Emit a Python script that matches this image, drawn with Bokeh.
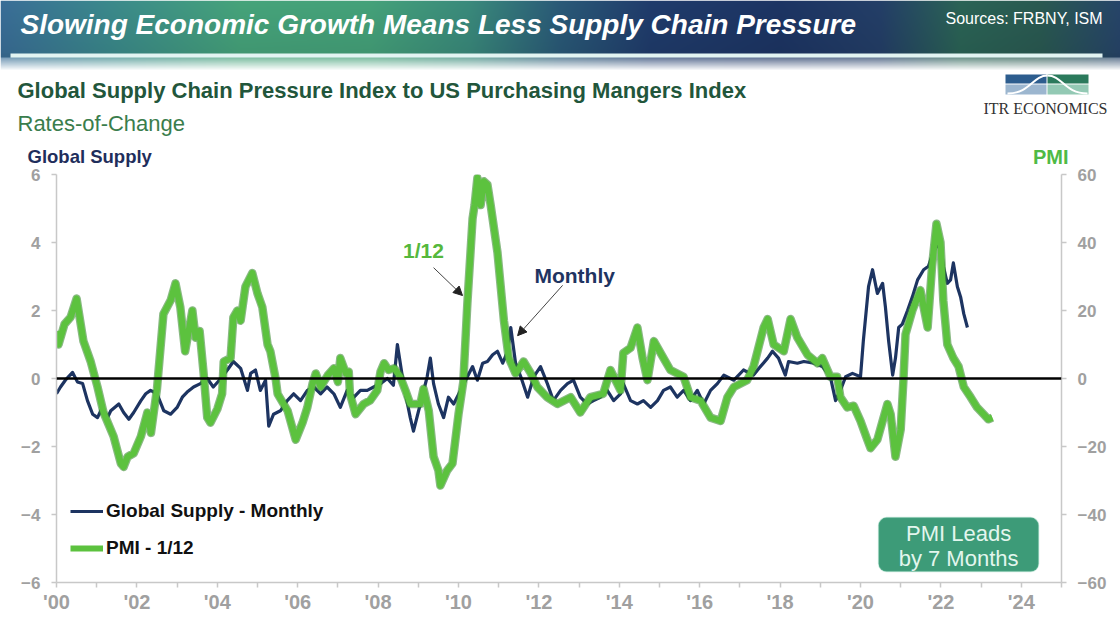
import numpy as np
from bokeh.plotting import figure
from bokeh.models import (Range1d, LinearAxis, FixedTicker, Span, Label, Arrow,
                          NormalHead, BoxAnnotation, Legend, LegendItem)
from bokeh.layouts import column
from bokeh.embed import file_html
from bokeh.resources import INLINE

# ---------------- data ----------------
gs_t = [2000.00, 2000.10, 2000.22, 2000.40, 2000.52, 2000.65, 2000.77, 2000.90, 2001.02, 2001.14,
        2001.27, 2001.35, 2001.55, 2001.67, 2001.80, 2001.92, 2002.10, 2002.22, 2002.34, 2002.50,
        2002.67, 2002.84, 2003.00, 2003.13, 2003.25, 2003.41, 2003.58, 2003.75, 2003.90, 2004.05,
        2004.25, 2004.40, 2004.58, 2004.75, 2004.83, 2004.95, 2005.07, 2005.20, 2005.28, 2005.40,
        2005.57, 2005.74, 2005.90, 2006.07, 2006.24, 2006.40, 2006.57, 2006.73, 2006.90, 2007.06,
        2007.23, 2007.40, 2007.56, 2007.73, 2007.89, 2008.06, 2008.23, 2008.38, 2008.48, 2008.63,
        2008.80, 2008.88, 2009.05, 2009.22, 2009.30, 2009.38, 2009.50, 2009.63, 2009.75, 2009.88,
        2010.05, 2010.22, 2010.35, 2010.47, 2010.60, 2010.72, 2010.85, 2010.97, 2011.10, 2011.22,
        2011.30, 2011.42, 2011.55, 2011.72, 2011.87, 2012.04, 2012.21, 2012.36, 2012.54, 2012.71,
        2012.86, 2013.03, 2013.20, 2013.36, 2013.53, 2013.70, 2013.86, 2014.03, 2014.10, 2014.28,
        2014.45, 2014.60, 2014.78, 2014.95, 2015.10, 2015.27, 2015.44, 2015.60, 2015.77, 2015.94,
        2016.10, 2016.27, 2016.44, 2016.60, 2016.85, 2017.09, 2017.34, 2017.51, 2017.69, 2017.81,
        2017.96, 2018.13, 2018.21, 2018.43, 2018.59, 2018.84, 2019.05, 2019.25, 2019.38, 2019.50,
        2019.63, 2019.80, 2020.00, 2020.07, 2020.20, 2020.30, 2020.42, 2020.55, 2020.62, 2020.70,
        2020.80, 2020.87, 2020.95, 2021.04, 2021.17, 2021.29, 2021.42, 2021.57, 2021.69, 2021.82,
        2021.99, 2022.06, 2022.16, 2022.24, 2022.31, 2022.41, 2022.49, 2022.57, 2022.66]
gs_v = [-0.45, -0.25, -0.05, 0.18, -0.10, -0.15, -0.65, -1.05, -1.15, -0.85,
        -1.15, -0.95, -0.75, -1.00, -1.20, -1.00, -0.65, -0.45, -0.35, -0.45,
        -0.95, -1.05, -0.85, -0.55, -0.40, -0.25, -0.15, 0.00, -0.25, -0.05,
        0.25, 0.50, 0.30, -0.35, 0.15, 0.25, -0.35, -0.05, -1.40, -1.05,
        -0.95, -0.65, -0.45, -0.65, -0.35, -0.25, -0.45, -0.25, -0.45, -0.85,
        -0.35, -0.55, -0.35, -0.35, -0.25, -0.15, 0.00, -0.20, 1.00, -0.15,
        -1.15, -1.55, -0.75, 0.05, 0.60, -0.15, -0.75, -1.15, -0.55, -0.75,
        -0.35, 0.05, 0.35, -0.05, 0.45, 0.50, 0.70, 0.80, 0.45, 0.80,
        1.50, 0.45, 0.05, -0.55, 0.05, 0.35, -0.15, -0.65, -0.35, -0.15,
        -0.05, -0.55, -0.75, -0.65, -0.55, -0.35, -0.65, -0.45, -0.15, -0.65,
        -0.75, -0.65, -0.85, -0.65, -0.35, -0.25, -0.55, -0.35, -0.65, -0.35,
        -0.75, -0.35, -0.15, 0.10, -0.05, 0.25, 0.10, 0.35, 0.60, 0.80,
        0.60, 0.10, 0.50, 0.45, 0.50, 0.45, 0.35, 0.05, -0.65, -0.35,
        0.05, 0.15, 0.05, 1.10, 2.70, 3.20, 2.50, 2.80, 2.10, 1.10,
        0.10, 0.60, 1.50, 1.60, 2.00, 2.40, 2.90, 3.20, 3.30, 3.75,
        4.05, 3.30, 2.80, 2.90, 3.40, 2.70, 2.40, 1.90, 1.50]

pmi_t = [2000.00, 2000.05, 2000.20, 2000.35, 2000.50, 2000.67, 2000.85, 2001.02, 2001.17, 2001.42,
         2001.60, 2001.67, 2001.77, 2001.92, 2002.10, 2002.26, 2002.35, 2002.50, 2002.66, 2002.84,
         2002.96, 2003.08, 2003.20, 2003.38, 2003.46, 2003.56, 2003.66, 2003.75, 2003.83, 2004.00,
         2004.12, 2004.16, 2004.33, 2004.40, 2004.50, 2004.58, 2004.70, 2004.87, 2005.00, 2005.12,
         2005.25, 2005.32, 2005.45, 2005.50, 2005.75, 2005.95, 2006.12, 2006.24, 2006.37, 2006.45,
         2006.57, 2006.75, 2006.90, 2007.00, 2007.06, 2007.20, 2007.27, 2007.30, 2007.44, 2007.64,
         2007.80, 2007.98, 2008.06, 2008.15, 2008.26, 2008.40, 2008.55, 2008.68, 2008.80, 2009.05,
         2009.13, 2009.26, 2009.38, 2009.50, 2009.55, 2009.72, 2009.85, 2010.00, 2010.12, 2010.22,
         2010.35, 2010.40, 2010.47, 2010.55, 2010.63, 2010.72, 2010.80, 2010.97, 2011.13, 2011.25,
         2011.42, 2011.62, 2011.80, 2011.96, 2012.20, 2012.46, 2012.79, 2013.03, 2013.28, 2013.60,
         2013.78, 2014.03, 2014.10, 2014.28, 2014.45, 2014.58, 2014.70, 2014.86, 2015.10, 2015.27,
         2015.60, 2015.77, 2016.02, 2016.27, 2016.52, 2016.69, 2016.85, 2017.18, 2017.34, 2017.59,
         2017.69, 2017.84, 2018.09, 2018.18, 2018.26, 2018.43, 2018.68, 2018.93, 2019.05, 2019.25,
         2019.42, 2019.50, 2019.67, 2019.83, 2020.00, 2020.17, 2020.25, 2020.42, 2020.55, 2020.67,
         2020.75, 2020.87, 2021.00, 2021.07, 2021.12, 2021.29, 2021.49, 2021.57, 2021.67, 2021.78,
         2021.89, 2021.99, 2022.06, 2022.16, 2022.31, 2022.44, 2022.57, 2022.74, 2022.90, 2023.06,
         2023.18, 2023.28]
pmi_v = [14.0, 10.0, 16.0, 18.0, 23.5, 11.0, 5.0, -2.5, -10.0, -17.0,
         -25.0, -26.0, -23.0, -22.0, -17.0, -10.0, -16.0, -3.0, 19.0, 23.0,
         28.0, 21.0, 8.0, 20.0, 12.0, 14.0, 1.5, -11.5, -13.0, -9.0,
         -4.5, 5.0, 6.0, 18.0, 20.0, 17.0, 27.0, 31.0, 25.0, 21.0,
         10.0, 8.0, 0.0, -4.5, -9.5, -18.0, -13.0, -8.5, -1.5, 1.5,
         -2.5, 1.0, 3.0, -1.0, 6.0, 1.5, 2.0, -4.5, -10.5, -7.5,
         -6.5, -3.5, 2.0, 4.5, 2.5, 3.0, 0.5, -3.5, -7.5, -7.5,
         -3.0, -9.5, -23.0, -27.0, -31.5, -27.0, -25.0, -10.5, -1.0, 22.0,
         47.0, 51.0, 59.0, 51.0, 58.0, 57.0, 51.0, 37.0, 17.0, 6.0,
         1.5, 5.0, 1.5, -2.5, -5.5, -7.5, -5.5, -10.0, -5.5, -4.5,
         2.5, -3.5, 7.5, 9.0, 15.0, 6.0, -0.5, 11.0, 6.0, 2.5,
         0.5, -5.5, -6.5, -11.5, -12.5, -5.5, -2.5, -0.5, 3.5, 15.0,
         17.5, 10.0, 8.0, 13.0, 17.5, 12.0, 7.0, 4.5, 6.0, 0.5,
         0.5, -5.5, -8.5, -8.0, -12.5, -18.0, -20.5, -18.0, -12.5, -7.5,
         -10.5, -23.0, -15.0, 0.0, 13.0, 20.0, 26.0, 21.0, 15.0, 33.0,
         45.5, 40.0, 23.0, 10.0, 6.0, 3.5, -2.5, -5.5, -8.5, -10.5,
         -12.0, -11.5]

x_ticks = [2000, 2002, 2004, 2006, 2008, 2010, 2012, 2014, 2016, 2018, 2020, 2022, 2024]
x_tick_labels = ["'00", "'02", "'04", "'06", "'08", "'10", "'12", "'14", "'16", "'18", "'20", "'22", "'24"]
x_minor = [2001, 2003, 2005, 2007, 2009, 2011, 2013, 2015, 2017, 2019, 2021, 2023, 2025]
left_ticks = [-6, -4, -2, 0, 2, 4, 6]
right_ticks = [-60, -40, -20, 0, 20, 40, 60]

FONT = "Liberation Sans"
NAVY = "#1d3461"
GREEN = "#5cc23e"
W = 1120


def no_align(fig):
    try:
        fig.frame_align = False
    except Exception:
        pass


# ---------------- header banner ----------------
HH = 70
hdr = figure(width=W, height=HH, x_range=Range1d(0, W), y_range=Range1d(0, HH),
             output_backend="svg", toolbar_location=None, min_border=0,
             x_axis_location=None, y_axis_location=None)
hdr.grid.visible = False
hdr.outline_line_color = None
no_align(hdr)

stops_x = [0, 110, 240, 370, 470, 560, 650, 780, 880, 960, 1040, 1120]
stops_c = ["#3a6e98", "#3b8a8c", "#46a47b", "#45a27a", "#3a8a7c", "#2a5a78",
           "#203c6c", "#1d3564", "#243f68", "#2b6456", "#2a5a52", "#27456a"]
rgb = np.array([[int(c[i:i + 2], 16) for i in (1, 3, 5)] for c in stops_c], dtype=float)
xs = np.arange(0, W) + 0.5
cols = np.stack([np.interp(xs, stops_x, rgb[:, k]) for k in range(3)], axis=1)
img = np.zeros((HH, W, 4), dtype=np.uint8)
line_mask = (xs > 10) & (xs < 1102)
for r in range(HH):
    sy = HH - r - 0.5
    if sy < 53:
        shade = 1.0 - 0.08 * sy / 53
        img[r, :, :3] = np.clip(cols * shade, 0, 255)
        img[r, :, 3] = 255
    elif sy < 57:
        img[r, :, :3] = np.clip(cols * 0.9, 0, 255)
        img[r, line_mask, :3] = [226, 244, 242]
        img[r, :, 3] = 255
    else:
        img[r, :, :3] = cols
        img[r, :, 3] = int(255 * 0.7 * max(0.0, 1 - (sy - 57) / 13))
hdr.image_rgba(image=[img.view(np.uint32).reshape(HH, W)], x=0, y=0, dw=W, dh=HH)

hdr.add_layout(Label(x=20, y=HH - 24, text="Slowing Economic Growth Means Less Supply Chain Pressure",
                     text_font=FONT, text_font_style="bold italic", text_font_size="28px",
                     text_color="white", text_baseline="middle"))
hdr.add_layout(Label(x=945, y=HH - 18, text="Sources: FRBNY, ISM", text_font=FONT,
                     text_font_size="16px", text_color="white", text_baseline="middle"))

# ---------------- titles / logo ----------------
T0, T1 = 70, 167
ttl = figure(width=W, height=T1 - T0, x_range=Range1d(0, W), y_range=Range1d(0, T1 - T0),
             output_backend="svg", toolbar_location=None, min_border=0,
             x_axis_location=None, y_axis_location=None)
ttl.grid.visible = False
ttl.outline_line_color = None
no_align(ttl)
ttl.add_layout(Label(x=17, y=T1 - 90, text="Global Supply Chain Pressure Index to US Purchasing Mangers Index",
                     text_font=FONT, text_font_style="bold", text_font_size="22px",
                     text_color="#22563b", text_baseline="middle"))
ttl.add_layout(Label(x=17, y=T1 - 123, text="Rates-of-Change", text_font=FONT,
                     text_font_size="22px", text_color="#3a7d4c", text_baseline="middle"))
ttl.add_layout(Label(x=27, y=T1 - 156, text="Global Supply", text_font=FONT, text_font_style="bold",
                     text_font_size="18.5px", text_color="#1f2e5c", text_baseline="middle"))
ttl.add_layout(Label(x=1068, y=T1 - 156, text="PMI", text_font=FONT, text_font_style="bold",
                     text_font_size="20px", text_color="#4fba45", text_baseline="middle",
                     text_align="right"))
# logo
ttl.quad(left=[1005, 1047, 1005, 1047], right=[1046, 1088, 1046, 1088],
         top=[T1 - 74, T1 - 74, T1 - 84, T1 - 84], bottom=[T1 - 83, T1 - 83, T1 - 94, T1 - 94],
         fill_color=["#2d5d8e", "#2b7a5c", "#9cb6cf", "#93c9b4"], line_color=None)
ttl.bezier(x0=[1007, 1047], y0=[T1 - 93, T1 - 75], x1=[1047, 1087], y1=[T1 - 75, T1 - 93],
           cx0=[1030, 1062], cy0=[T1 - 93, T1 - 75], cx1=[1032, 1064], cy1=[T1 - 75, T1 - 93],
           line_color="white", line_width=2)
ttl.add_layout(Label(x=1045, y=T1 - 108, text="ITR ECONOMICS", text_font="Liberation Serif",
                     text_font_size="16px", text_color="#333333", text_baseline="middle",
                     text_align="center"))

# ---------------- chart ----------------
p = figure(width=W, height=450, x_range=Range1d(2000, 2025), y_range=Range1d(-6, 6),
           output_backend="svg", toolbar_location=None,
           min_border_left=56, min_border_right=59, min_border_top=7, min_border_bottom=35)
p.extra_y_ranges = {"pmi": Range1d(-60, 60)}
p.grid.visible = False
p.outline_line_color = None
no_align(p)

p.add_layout(Span(location=0, dimension="width", line_color="black", line_width=2.5))

blue = p.line(gs_t, gs_v, line_color=NAVY, line_width=3.2, line_join="round")
p.line(pmi_t, pmi_v, y_range_name="pmi", line_color="#3a8a30", line_width=8.5,
       line_alpha=0.6, line_join="round")
green = p.line(pmi_t, pmi_v, y_range_name="pmi", line_color=GREEN, line_width=6.2,
               line_join="round")

raxis = LinearAxis(y_range_name="pmi", ticker=FixedTicker(ticks=right_ticks))
p.add_layout(raxis, "right")
p.yaxis[0].ticker = FixedTicker(ticks=left_ticks)
p.xaxis.ticker = FixedTicker(ticks=x_ticks, minor_ticks=x_minor)
p.xaxis.major_label_overrides = dict(zip(x_ticks, x_tick_labels))

for ax in p.xaxis + p.yaxis:
    ax.axis_line_color = "#c8c8c8"
    ax.axis_line_width = 1.5
    ax.major_tick_line_color = "#c8c8c8"
    ax.major_tick_line_width = 1.5
    ax.major_tick_in = 0
    ax.major_tick_out = 5
    ax.minor_tick_line_color = None
    ax.major_label_text_font = FONT
    ax.major_label_text_font_style = "bold"
    ax.major_label_text_font_size = "17px"
    ax.major_label_text_color = "#a0a0a0"
    ax.major_label_standoff = 11
p.xaxis.minor_tick_line_color = "#c8c8c8"
p.xaxis.minor_tick_line_width = 1.5
p.xaxis.minor_tick_in = 0
p.xaxis.minor_tick_out = 5
p.xaxis.major_label_standoff = 3
p.xaxis.major_label_text_font_size = "20px"

legend = Legend(items=[LegendItem(label="Global Supply - Monthly", renderers=[blue]),
                       LegendItem(label="PMI - 1/12", renderers=[green])],
                location=(14, 23), padding=0, margin=0, spacing=15, glyph_width=33,
                glyph_height=22, label_standoff=3, label_height=22,
                border_line_color=None, background_fill_alpha=0,
                label_text_font=FONT, label_text_font_style="bold",
                label_text_font_size="19px", label_text_color="#111111")
p.add_layout(legend, "center")

p.add_layout(Label(x=2009.13, y=3.76, text="1/12", text_font=FONT, text_font_style="bold",
                   text_font_size="21px", text_color="#55b83c", text_align="center",
                   text_baseline="middle"))
p.add_layout(Arrow(end=NormalHead(size=9, fill_color="#222222", line_color="#222222"),
                   x_start=2009.38, y_start=3.26, x_end=2010.10, y_end=2.44,
                   line_color="#444444", line_width=1))
p.add_layout(Label(x=2012.89, y=3.03, text="Monthly", text_font=FONT, text_font_style="bold",
                   text_font_size="21px", text_color="#1f3461", text_align="center",
                   text_baseline="middle"))
p.add_layout(Arrow(end=NormalHead(size=9, fill_color="#222222", line_color="#222222"),
                   x_start=2012.59, y_start=2.74, x_end=2011.47, y_end=1.26,
                   line_color="#444444", line_width=1))

p.add_layout(BoxAnnotation(left=2020.45, right=2024.43, top=-4.09, bottom=-5.68,
                           fill_color="#3d9b78", fill_alpha=1.0, line_color="#6cc4a2",
                           line_width=1.5, border_radius=8))
p.add_layout(Label(x=2022.44, y=-4.55, text="PMI Leads", text_font=FONT, text_font_size="22px",
                   text_color="#e3f6ee", text_align="center", text_baseline="middle"))
p.add_layout(Label(x=2022.44, y=-5.29, text="by 7 Months", text_font=FONT, text_font_size="22px",
                   text_color="#e3f6ee", text_align="center", text_baseline="middle"))

layout = column(hdr, ttl, p, spacing=0)
open("out.html", "w").write(file_html(layout, INLINE))
